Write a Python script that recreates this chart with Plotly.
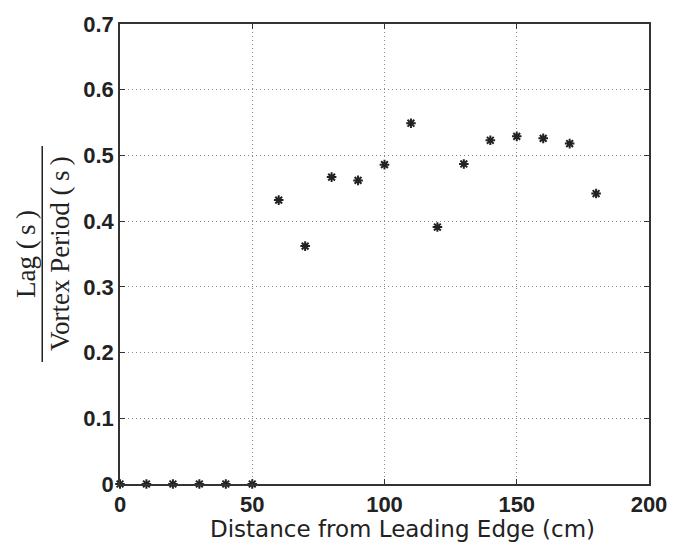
import plotly.graph_objects as go

distance = [0, 10, 20, 30, 40, 50, 60, 70, 80, 90, 100, 110, 120, 130, 140, 150, 160, 170, 180]
lag_ratio = [0, 0, 0, 0, 0, 0, 0.432, 0.362, 0.467, 0.462, 0.486, 0.549, 0.391, 0.487,
             0.523, 0.529, 0.526, 0.518, 0.442]
x_ticks = [0, 50, 100, 150, 200]
y_ticks = [0, 0.1, 0.2, 0.3, 0.4, 0.5, 0.6, 0.7]
y_tick_text = ["0", "0.1", "0.2", "0.3", "0.4", "0.5", "0.6", "0.7"]

fig = go.Figure()
fig.add_trace(go.Scatter(
    x=distance, y=lag_ratio, mode="markers",
    marker=dict(symbol="asterisk-open", size=8, color="#222",
                line=dict(color="#222", width=2)),
    cliponaxis=False, showlegend=False,
))

axis_common = dict(
    showline=True, linecolor="#333", linewidth=1.5, mirror="ticks",
    ticks="inside", ticklen=5, tickcolor="#333",
    showgrid=True, gridcolor="#888", griddash="1px,3px", gridwidth=1,
    zeroline=False,
    tickfont=dict(family="Liberation Sans", size=22, color="#222", weight="bold"),
)

fig.update_xaxes(range=[0, 200], tickvals=x_ticks, ticklabelstandoff=0, **axis_common)
fig.update_yaxes(range=[0, 0.7], tickvals=y_ticks, ticktext=y_tick_text, **axis_common)

fig.update_layout(
    width=679, height=546,
    margin=dict(l=120, r=26, t=16, b=62),
    plot_bgcolor="white", paper_bgcolor="white",
)

# x-axis title
fig.add_annotation(
    text="Distance from Leading Edge (cm)", xref="paper", yref="paper",
    x=0.5, y=0, xshift=18, yshift=-45, yanchor="middle", xanchor="center", showarrow=False,
    font=dict(family="DejaVu Sans", size=23, color="#222"),
)
# y-axis title as a fraction
fig.add_annotation(
    text="Lag (\u2009s\u2009)", xref="paper", yref="paper", x=0, xshift=-94, y=0.5,
    textangle=-90, showarrow=False, xanchor="center", yanchor="middle",
    font=dict(family="Liberation Serif", size=27, color="#222"),
)
fig.add_annotation(
    text="Vortex Period (\u2009s\u2009)", xref="paper", yref="paper", x=0, xshift=-60, y=0.5,
    textangle=-90, showarrow=False, xanchor="center", yanchor="middle",
    font=dict(family="Liberation Serif", size=27, color="#222"),
)
fig.add_shape(type="line", xref="paper", yref="paper", x0=-0.147, x1=-0.147,
              y0=0.265, y1=0.735, line=dict(color="#222", width=1.5))

fig.write_html("out.html")
